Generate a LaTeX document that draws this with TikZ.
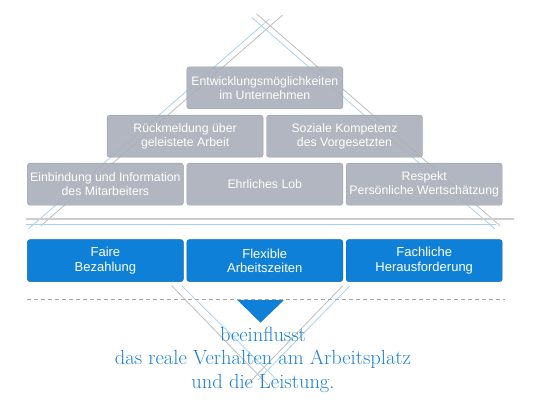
\documentclass[tikz,border=0pt]{standalone}
\usepackage{fontspec}
\newfontfamily\boxfont{Liberation Sans}
\usepackage{tikz}
\usetikzlibrary{positioning}
\definecolor{factorgray}{HTML}{ABB0BB}
\definecolor{factorborder}{HTML}{9AA0AB}
\definecolor{motivblue}{HTML}{0F80D7}
\definecolor{motivborder}{HTML}{0B6AB8}
\definecolor{linegray}{HTML}{BDBDBD}
\definecolor{lineblue}{HTML}{A6D3F4}
\definecolor{effectblue}{HTML}{1A80D2}

\begin{document}
\begin{tikzpicture}
[ x=1pt, y=-1pt, node distance=3pt and 3pt,
		factor/.style={rectangle,rounded corners=2.5pt,draw=factorborder,fill=factorgray,fill opacity=0.93,text opacity=1,minimum width=156pt,minimum height=42pt,inner sep=1pt,align=center,text=white,font=\boxfont\fontsize{12.3}{13.8}\selectfont},
		motivator/.style={factor,draw=motivborder,fill=motivblue,fill opacity=1,font=\boxfont\fontsize{13}{14.2}\selectfont},
		grayLine/.style={draw=linegray,line width=0.8pt},
		blueLine/.style={draw=lineblue,line width=0.8pt}]

	\useasboundingbox (0,0) rectangle (540,406);

	% pyramid lines behind the boxes
	\draw[blueLine] (269.3,19) -- (28.3,229);
	\draw[grayLine] (282.7,15) -- (41,225.7);
	\draw[blueLine] (251.7,17.3) -- (495,229);
	\draw[grayLine] (256.7,14) -- (500,225.7);

	% lines below the motivators
	\draw[grayLine] (171.7,285.7) -- (268,385);
	\draw[blueLine] (181.7,285.7) -- (277,380);
	\draw[grayLine] (342.7,285.7) -- (247,385);
	\draw[blueLine] (350,285.7) -- (258,380);

	\node[factor] (praise) at (264.8,184.2) {Ehrliches Lob};
	\node[factor] (involvement) [left=of praise] {Einbindung und Information\\des Mitarbeiters};
	\node[factor] (respect) [right=of praise] {Respekt\\Pers\"onliche Wertsch\"atzung};
	\node[factor] (feedback) [above left=5.6pt and 1.5pt of praise.north] {R\"uckmeldung \"uber\\geleistete Arbeit};
	\node[factor] (competence) [above right=5.6pt and 1.5pt of praise.north] {Soziale Kompetenz\\des Vorgesetzten};
	\node[factor] (development) [above=54pt of praise] {Entwicklungsm\"oglichkeiten\\im Unternehmen};

	\draw[draw=linegray!75,line width=1.4pt] (26,219) -- (514,219);
	\draw[blueLine] (26,224.2) -- (496,224.2);

	\node[motivator] (flexible) [below=34pt of praise] {Flexible\\Arbeitszeiten};
	\node[motivator] (pay) [left=of flexible] {Faire\\Bezahlung};
	\node[motivator] (challenge) [right=of flexible] {Fachliche\\Herausforderung};

	\draw[draw=black!35,line width=0.8pt,dash pattern=on 4pt off 3pt] (27,299.3) -- (505,299.3);
	\fill[motivblue] (237.3,300) -- (284,300) -- (260.5,322.7) -- cycle;

	\node[text=effectblue,align=center,anchor=base,inner sep=0pt,font=\fontsize{20.5}{23.3}\selectfont] (effect) at (263,388) {beeinflusst\\das reale Verhalten am Arbeitsplatz\\und die Leistung.};
\end{tikzpicture}
\end{document}
